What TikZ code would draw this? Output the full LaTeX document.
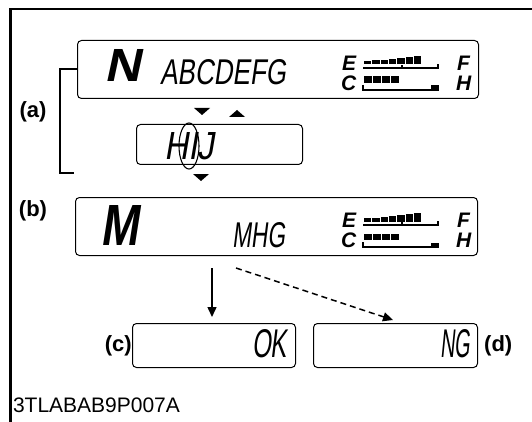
\documentclass[tikz,border=0pt]{standalone}
\usepackage{fontspec}
\setmainfont{Liberation Sans}
\newfontfamily\lcd[FakeSlant=0.2]{Liberation Sans}
\newfontfamily\lcdb[FakeSlant=0.2]{Liberation Sans Bold}
\newfontfamily\gaugef{Liberation Sans Bold Italic}
\newcommand\lcdtxt[3]{\resizebox{#1pt}{#2pt}{#3}}
\tikzset{
  frameline/.style={line width=2.5pt},
  lcdbox/.style={draw, line width=1pt, rounded corners=4pt},
  txt/.style={inner sep=0pt, outer sep=0pt},
  lbl/.style={inner sep=0pt, font=\fontsize{22}{22}\selectfont\bfseries},
  tri/.style={fill=black, draw=none},
  bracketline/.style={line width=1.4pt},
  arrowline/.style={line width=1.5pt, -{Triangle[length=10pt,width=9pt]}},
  gauge/.style={inner sep=0pt, font=\fontsize{21}{21}\gaugef}
}
\usetikzlibrary{arrows.meta}
\newcommand\fuelgauge[1]{%
  \begin{scope}[yshift=#1]
    % top row blocks
    \foreach \i/\h in {0/3.5,1/4,2/4.5,3/5.5,4/6.5,5/7.5,6/8.5}{
      \fill (364+\i*8.3,64.5) rectangle ++(7.3,-\h);
    }
    \draw[line width=1.3pt] (363,68) -- (438,68) -- (438,64);
    \draw[line width=1.3pt] (402,68) -- (402,65);
    % bottom row blocks
    \foreach \i in {0,1,2,3}{
      \fill (364+\i*9,76.5) rectangle ++(7.8,6.5);
    }
    \draw[line width=1.3pt] (363,85) -- (363,90) -- (438,90);
    \fill (431,90.6) rectangle (438.6,85.5);
  \end{scope}
}
\begin{document}
\begin{tikzpicture}[x=1pt,y=-1pt]
\useasboundingbox (0,0) rectangle (532,422);
% outer frame
\draw[frameline] (10.5,422) -- (10.5,9) -- (532,9);

% box (a)
\node[lcdbox, minimum width=401pt, minimum height=58pt, anchor=north west] (boxA) at (77,40) {};
\node[txt, anchor=south west] (nA) at (104,82) {\lcdtxt{36}{32}{\lcdb N}};
\node[txt, anchor=south west] (tA) at (160,85) {\lcdtxt{126}{25}{\lcd ABCDEFG}};
\node[gauge, anchor=south west] (eA) at (342,70.5) {E};
\node[gauge, anchor=south west] (cA) at (341,90.5) {C};
\node[gauge, anchor=south west] (fA) at (457,70.5) {F};
\node[gauge, anchor=south west] (hA) at (456,90.5) {H};
\fuelgauge{0}

% triangles
\fill[tri] (194,108) -- (210,108) -- (202,115) -- cycle;
\fill[tri] (229,117) -- (245,117) -- (237,110) -- cycle;

% small box
\node[lcdbox, minimum width=166pt, minimum height=40pt, anchor=north west] (boxS) at (136,124) {};
\node[txt, anchor=south west] (tS) at (164,160) {\lcdtxt{50}{27}{\lcd HIJ}};
\draw[line width=1.1pt] (189,146) ellipse [x radius=10pt, y radius=23pt];
\fill[tri] (193,174) -- (209,174) -- (201,181) -- cycle;

% bracket (a)
\coordinate (brT) at (boxA.west |- 0,69);
\coordinate (brB) at (74,173);
\draw[bracketline] (brT) -- (60,69) -- (60,173) -- (brB);
\node[lbl, anchor=center] (la) at (33,112) {(a)};

% box (b)
\node[lcdbox, minimum width=402pt, minimum height=58pt, anchor=north west] (boxB) at (75,197) {};
\node[txt, anchor=south west] (nB) at (100,245) {\lcdtxt{38}{40}{\lcdb M}};
\node[txt, anchor=south west] (tB) at (232,248) {\lcdtxt{53}{25}{\lcd MHG}};
\node[gauge, anchor=south west] (eB) at (342,227.5) {E};
\node[gauge, anchor=south west] (cB) at (341,247.5) {C};
\node[gauge, anchor=south west] (fB) at (457,227.5) {F};
\node[gauge, anchor=south west] (hB) at (456,247.5) {H};
\fuelgauge{-157}
\node[lbl, anchor=center] (lb) at (33,211) {(b)};

% box (c)
\node[lcdbox, minimum width=163pt, minimum height=44pt, anchor=north west] (boxC) at (132,323) {};
\node[txt, anchor=south west] (tC) at (252,358) {\lcdtxt{35}{28}{\lcd OK}};
\node[lbl, anchor=east] (lc) at (boxC.west) {(c)\hspace{5pt}};

% box (d)
\node[lcdbox, minimum width=164pt, minimum height=44pt, anchor=north west] (boxD) at (313,323) {};
\node[txt, anchor=south west] (tD) at (440,358) {\lcdtxt{30}{28}{\lcd NG}};
\node[lbl, anchor=west] (ld) at (boxD.east) {\hspace{6pt}(d)};

% arrows
\coordinate (s1) at (212,268);
\coordinate (e1) at (212,317);
\draw[arrowline] (s1) -- (e1);
\coordinate (s2) at (236,268);
\coordinate (e2) at (393,320);
\draw[arrowline, dash pattern=on 6pt off 4pt] (s2) -- (e2);

% code
\node[txt, anchor=south west, font=\fontsize{21}{21}\selectfont] (code) at (13,413) {3TLABAB9P007A};
\end{tikzpicture}
\end{document}
